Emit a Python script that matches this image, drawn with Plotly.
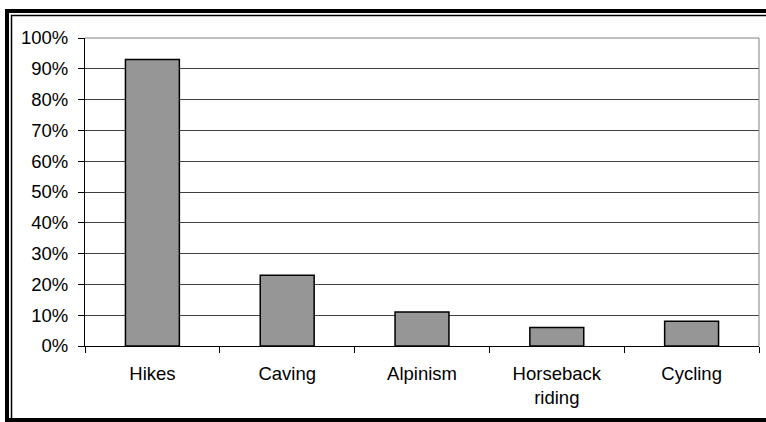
import plotly.graph_objects as go

# Share of respondents taking part in each activity
activities = ["Hikes", "Caving", "Alpinism", "Horseback<br>riding", "Cycling"]
shares = [0.93, 0.23, 0.11, 0.06, 0.08]
y_ticks = [i / 10 for i in range(11)]
y_tick_labels = [f"{i * 10}%" for i in range(11)]

W, H = 766, 422
ML, MR, MT, MB = 85, 7, 38, 76
PW, PH = W - ML - MR, H - MT - MB


def px_x(px):
    return (px - ML) / PW


def px_y(py):
    return (H - MB - py) / PH


fig = go.Figure(
    go.Bar(
        x=activities,
        y=shares,
        marker=dict(color="#969696", line=dict(color="#000000", width=1.5)),
        width=0.4,
        hoverinfo="x+y",
    )
)

font = dict(family="Liberation Sans, Arial, sans-serif", size=18.5, color="#000000")

shapes = [
    # plot-area frame on the top and right sides
    dict(type="line", xref="paper", yref="paper", x0=0, x1=1, y0=1, y1=1,
         line=dict(color="#808080", width=1), layer="above"),
    dict(type="line", xref="paper", yref="paper", x0=1, x1=1, y0=0, y1=1,
         line=dict(color="#808080", width=1), layer="above"),
    # heavy outer chart border
    dict(type="rect", xref="paper", yref="paper",
         x0=px_x(7), x1=px_x(790), y0=px_y(420), y1=px_y(11),
         line=dict(color="#000000", width=4), fillcolor="rgba(0,0,0,0)", layer="above"),
    # thin inner chart border
    dict(type="rect", xref="paper", yref="paper",
         x0=px_x(11.5), x1=px_x(790), y0=px_y(440), y1=px_y(15.5),
         line=dict(color="#000000", width=1.5), fillcolor="rgba(0,0,0,0)", layer="above"),
]

fig.update_layout(
    width=W,
    height=H,
    margin=dict(l=ML, r=MR, t=MT, b=MB),
    paper_bgcolor="#ffffff",
    plot_bgcolor="#ffffff",
    font=font,
    showlegend=False,
    bargap=0.6,
    shapes=shapes,
    xaxis=dict(
        showline=True,
        linecolor="#000000",
        linewidth=1,
        ticks="outside",
        tickson="boundaries",
        ticklen=6,
        tickcolor="#000000",
        tickwidth=1,
        showgrid=False,
        tickfont=font,
        range=[-0.5, 4.5],
        ticklabelstandoff=11,
    ),
    yaxis=dict(
        range=[0, 1],
        tickvals=y_ticks,
        ticktext=y_tick_labels,
        showline=True,
        linecolor="#000000",
        linewidth=1,
        ticks="outside",
        ticklen=6,
        tickcolor="#000000",
        tickwidth=1,
        showgrid=True,
        gridcolor="#404040",
        gridwidth=1,
        zeroline=False,
        tickfont=font,
        ticklabelstandoff=6,
    ),
)

fig.write_html("out.html")
